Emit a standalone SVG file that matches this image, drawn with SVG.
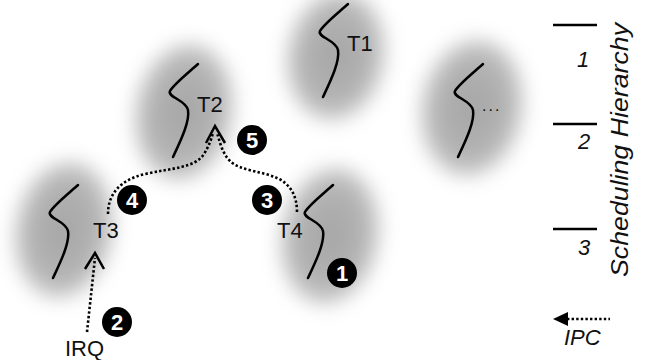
<svg xmlns="http://www.w3.org/2000/svg" xmlns:xlink="http://www.w3.org/1999/xlink" width="648" height="360" viewBox="0 0 648 360">
<style>
.blob{fill:url(#bg);filter:url(#blur)}
.sq{fill:none;stroke:#000;stroke-width:2.5;stroke-linecap:round;stroke-linejoin:round}
.lbl{font-family:"Liberation Sans",Arial,sans-serif;font-size:22px;fill:#111}
.it{font-family:"Liberation Sans",Arial,sans-serif;font-size:22px;font-style:italic;fill:#111}
.dot{fill:none;stroke:#000;stroke-width:2.6;stroke-dasharray:2.4 2.2}
.chev{fill:none;stroke:#000;stroke-width:2.5;stroke-linejoin:miter}
.num{fill:#000}
.numt{font-family:"Liberation Sans",Arial,sans-serif;font-size:22px;font-weight:bold;fill:#fff;text-anchor:middle}
.lvl{stroke:#000;stroke-width:2.5}
</style>
<defs>
<radialGradient id="bg" cx="0.5" cy="0.5" r="0.5">
<stop offset="0" stop-color="#a6a6a6"/>
<stop offset="0.6" stop-color="#b0b0b0"/>
<stop offset="1" stop-color="#c4c4c4"/>
</radialGradient>
<filter id="blur" x="-50%" y="-50%" width="200%" height="200%"><feGaussianBlur stdDeviation="10"/></filter>
<path id="sqp" d="M0,0 C -10,9 -24,20 -28,27 C -31,33 -12,36 -10,46 C -8,58 -18,78 -25,93"/>
</defs>
<rect width="648" height="360" fill="#fff"/>

<g id="T1">
<ellipse class="blob" cx="336" cy="56" rx="48" ry="64" transform="rotate(10 336 56)"/>
<use xlink:href="#sqp" class="sq" x="348" y="4"/>
<text class="lbl" x="347" y="51">T1</text>
</g>
<g id="T2">
<ellipse class="blob" cx="184" cy="112" rx="48" ry="68" transform="rotate(10 184 112)"/>
<use xlink:href="#sqp" class="sq" x="198" y="64"/>
<text class="lbl" x="197" y="112">T2</text>
</g>
<g id="T3">
<ellipse class="blob" cx="64" cy="230" rx="48" ry="68" transform="rotate(10 64 230)"/>
<use xlink:href="#sqp" class="sq" x="78" y="185"/>
<text class="lbl" x="93" y="238">T3</text>
</g>
<g id="T4">
<ellipse class="blob" cx="330" cy="236" rx="48" ry="68" transform="rotate(10 330 236)"/>
<use xlink:href="#sqp" class="sq" x="333" y="185"/>
<text class="lbl" x="277" y="238">T4</text>
</g>
<g id="Tn">
<ellipse class="blob" cx="472" cy="108" rx="50" ry="68" transform="rotate(10 472 108)"/>
<use xlink:href="#sqp" class="sq" x="483" y="64"/>
<text class="lbl" x="482" y="111" style="font-size:16px;letter-spacing:2px">...</text>
</g>

<g id="IRQ">
<text class="lbl" x="65" y="356">IRQ</text>
</g>

<g id="connectors">
<path class="dot" d="M87,332 L95,258"/>
<path class="chev" d="M85,269 L95,253 L104,269"/>
<path class="dot" d="M108,214 C 108,194 120,180 145,174 C 172,168 195,168 204,154 C 209,146 211,140 213,133"/>
<path class="dot" d="M297,212 C 297,195 290,184 277,178 C 262,171 240,171 230,161 C 222,153 220,142 217,133"/>
<path class="chev" d="M206,143 L215,126 L225,143"/>
</g>

<g id="n1"><circle class="num" cx="342" cy="273" r="15"/><text class="numt" x="342" y="281">1</text></g>
<g id="n2"><circle class="num" cx="117" cy="322" r="15"/><text class="numt" x="117" y="330">2</text></g>
<g id="n3"><circle class="num" cx="267" cy="200" r="15"/><text class="numt" x="267" y="208">3</text></g>
<g id="n4"><circle class="num" cx="132" cy="200" r="15"/><text class="numt" x="132" y="208">4</text></g>
<g id="n5"><circle class="num" cx="252" cy="140" r="15"/><text class="numt" x="252" y="148">5</text></g>

<g id="legend">
<line class="lvl" x1="553" y1="25" x2="597" y2="25"/>
<line class="lvl" x1="553" y1="124" x2="597" y2="124"/>
<line class="lvl" x1="553" y1="229" x2="597" y2="229"/>
<text class="it" x="583" y="67" text-anchor="middle">1</text>
<text class="it" x="584" y="149" text-anchor="middle">2</text>
<text class="it" x="584" y="255" text-anchor="middle">3</text>
<text class="it" transform="translate(628 150) rotate(-90)" x="0" y="0" text-anchor="middle" textLength="254" lengthAdjust="spacingAndGlyphs" style="font-size:24px">Scheduling Hierarchy</text>
<path class="dot" d="M567,319 L610,319"/>
<path d="M553,319 L568,312 L568,326 Z" fill="#000"/>
<text class="it" x="564" y="345">IPC</text>
</g>
</svg>
